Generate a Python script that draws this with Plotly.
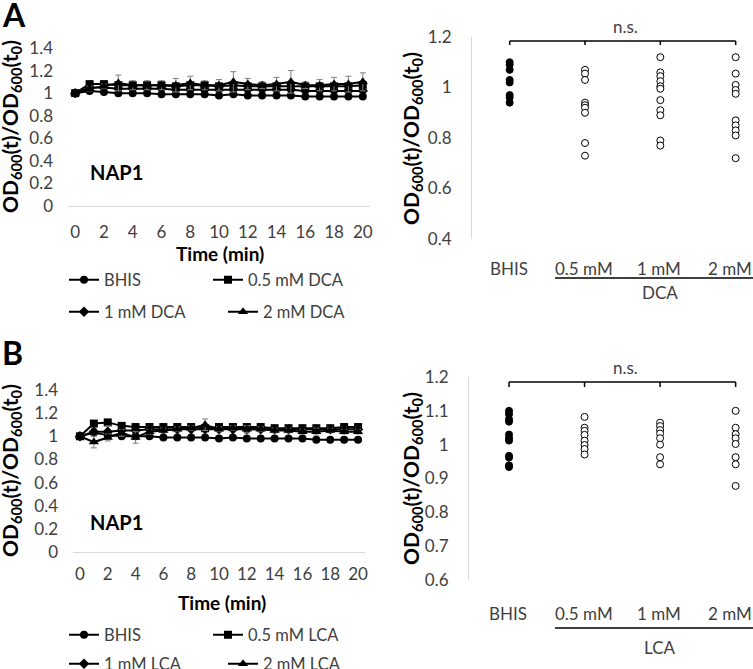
import plotly.graph_objects as go

W, H = 753, 669
FONT = "Lato, Carlito, Calibri, sans-serif"
GREY = "#404040"


def px(x):
    return x / W


def py(y):
    return 1 - y / H


# ---------------- data ----------------
TIME = list(range(21))
TIME_TICKS = list(range(0, 21, 2))

# Panel A (DCA) time courses
A_BHIS = [1.00, 1.02, 1.01, 1.00, 1.00, 1.00, 0.99, 0.99, 0.99, 0.99, 0.98,
          0.99, 0.98, 0.98, 0.98, 0.98, 0.97, 0.97, 0.97, 0.97, 0.97]
A_BHIS_ERR = [0.00, 0.01, 0.01, 0.01, 0.01, 0.01, 0.01, 0.01, 0.01, 0.01, 0.01,
              0.01, 0.01, 0.01, 0.01, 0.01, 0.01, 0.01, 0.01, 0.01, 0.01]
A_05 = [1.00, 1.08, 1.08, 1.07, 1.07, 1.07, 1.07, 1.06, 1.07, 1.07, 1.06,
        1.07, 1.06, 1.06, 1.06, 1.06, 1.06, 1.06, 1.06, 1.06, 1.07]
A_05_ERR = [0.00, 0.01, 0.01, 0.02, 0.02, 0.02, 0.02, 0.02, 0.02, 0.02, 0.02,
            0.02, 0.02, 0.02, 0.02, 0.02, 0.02, 0.02, 0.02, 0.02, 0.02]
A_1 = [1.00, 1.05, 1.05, 1.04, 1.04, 1.04, 1.04, 1.03, 1.03, 1.03, 1.03,
       1.03, 1.03, 1.03, 1.03, 1.03, 1.02, 1.02, 1.02, 1.02, 1.02]
A_1_ERR = [0.00, 0.02, 0.02, 0.02, 0.02, 0.02, 0.02, 0.02, 0.02, 0.02, 0.02,
           0.02, 0.02, 0.02, 0.02, 0.02, 0.02, 0.02, 0.02, 0.02, 0.02]
A_2 = [1.00, 1.04, 1.06, 1.09, 1.07, 1.07, 1.07, 1.07, 1.09, 1.07, 1.07,
       1.10, 1.08, 1.07, 1.08, 1.10, 1.07, 1.07, 1.08, 1.08, 1.10]
A_2_ERR = [0.00, 0.02, 0.02, 0.07, 0.04, 0.04, 0.04, 0.06, 0.06, 0.04, 0.05,
           0.09, 0.05, 0.03, 0.06, 0.10, 0.03, 0.05, 0.06, 0.07, 0.08]

# Panel B (LCA) time courses
B_BHIS = [1.00, 1.03, 1.01, 1.00, 1.00, 1.00, 0.99, 0.99, 0.99, 0.99, 0.98,
          0.99, 0.98, 0.98, 0.98, 0.98, 0.98, 0.97, 0.97, 0.97, 0.97]
B_BHIS_ERR = [0.00, 0.01, 0.01, 0.01, 0.01, 0.01, 0.01, 0.01, 0.01, 0.01, 0.01,
              0.01, 0.01, 0.01, 0.01, 0.01, 0.01, 0.01, 0.01, 0.01, 0.01]
B_05 = [1.00, 1.11, 1.12, 1.09, 1.08, 1.08, 1.08, 1.08, 1.08, 1.07, 1.08,
        1.08, 1.08, 1.08, 1.07, 1.07, 1.07, 1.07, 1.07, 1.08, 1.08]
B_05_ERR = [0.00, 0.02, 0.02, 0.02, 0.02, 0.02, 0.02, 0.02, 0.02, 0.02, 0.02,
            0.02, 0.02, 0.02, 0.02, 0.02, 0.02, 0.02, 0.02, 0.02, 0.02]
B_1 = [1.00, 1.04, 1.04, 1.05, 1.05, 1.06, 1.06, 1.06, 1.06, 1.06, 1.06,
       1.06, 1.06, 1.06, 1.06, 1.06, 1.06, 1.06, 1.06, 1.06, 1.06]
B_1_ERR = [0.00, 0.03, 0.05, 0.02, 0.02, 0.02, 0.02, 0.02, 0.02, 0.02, 0.02,
           0.02, 0.03, 0.02, 0.02, 0.02, 0.02, 0.02, 0.02, 0.02, 0.02]
B_2 = [1.00, 0.95, 0.99, 1.03, 0.99, 1.04, 1.05, 1.06, 1.07, 1.10, 1.06,
       1.07, 1.06, 1.06, 1.05, 1.05, 1.04, 1.04, 1.05, 1.04, 1.04]
B_2_ERR = [0.00, 0.05, 0.03, 0.03, 0.05, 0.02, 0.02, 0.02, 0.02, 0.05, 0.02,
           0.02, 0.03, 0.02, 0.02, 0.02, 0.02, 0.03, 0.02, 0.02, 0.02]

# Right panels: individual replicate values
CATS = ["BHIS", "0.5 mM", "1 mM", "2 mM"]
DCA_BHIS = [1.10, 1.09, 1.07, 1.03, 1.02, 0.97, 0.96, 0.94]
DCA_05 = [1.07, 1.055, 1.03, 0.94, 0.93, 0.92, 0.90, 0.78, 0.73]
DCA_1 = [1.12, 1.06, 1.045, 1.025, 1.005, 0.995, 0.95, 0.91, 0.89, 0.79, 0.77]
DCA_2 = [1.12, 1.055, 1.01, 0.99, 0.975, 0.87, 0.85, 0.83, 0.81, 0.72]

LCA_BHIS = [1.10, 1.09, 1.075, 1.068, 1.03, 1.02, 1.012, 0.967, 0.962, 0.939, 0.934]
LCA_05 = [1.082, 1.05, 1.041, 1.029, 1.012, 0.999, 0.987, 0.971]
LCA_1 = [1.065, 1.055, 1.043, 1.033, 1.019, 1.00, 0.963, 0.942]
LCA_2 = [1.10, 1.05, 1.031, 1.019, 1.002, 0.963, 0.942, 0.878]

A_NAMES = ["BHIS", "0.5 mM DCA", "1 mM DCA", "2 mM DCA"]
B_NAMES = ["BHIS", "0.5 mM LCA", "1 mM LCA", "2 mM LCA"]

# ---------------- figure ----------------
fig = go.Figure()

SYMBOLS = ["circle", "square", "diamond", "triangle-up"]
SIZES = [8, 8, 8, 9]

legend_pos_A = [(64, 280), (208, 280), (64, 312), (223, 312)]
legend_pos_B = [(64, 635), (208, 635), (64, 664), (223, 664)]

A_SERIES = [(A_BHIS, A_BHIS_ERR), (A_05, A_05_ERR), (A_1, A_1_ERR), (A_2, A_2_ERR)]
B_SERIES = [(B_BHIS, B_BHIS_ERR), (B_05, B_05_ERR), (B_1, B_1_ERR), (B_2, B_2_ERR)]

legend_layouts = {}
lcount = 0
for series, names, xa, ya, lpos in [
    (A_SERIES, A_NAMES, "x", "y", legend_pos_A),
    (B_SERIES, B_NAMES, "x3", "y3", legend_pos_B),
]:
    for i, ((vals, errs), name) in enumerate(zip(series, names)):
        lcount += 1
        lname = "legend" if lcount == 1 else f"legend{lcount}"
        fig.add_trace(go.Scatter(
            x=TIME, y=vals, name=name, mode="lines+markers",
            xaxis=xa, yaxis=ya,
            line=dict(color="black", width=2),
            marker=dict(symbol=SYMBOLS[i], size=SIZES[i], color="black"),
            error_y=dict(type="data", array=errs, visible=True,
                         color="#7f7f7f", thickness=1, width=3),
            legend=lname, showlegend=True,
        ))
        lx, ly = lpos[i]
        legend_layouts[lname] = dict(
            x=px(lx), y=py(ly), xanchor="left", yanchor="middle",
            bgcolor="rgba(0,0,0,0)", borderwidth=0,
            font=dict(family=FONT, size=16.5, color=GREY),
            itemwidth=30, tracegroupgap=0,
        )

# strip plots
for groups, xa, ya in [
    ([DCA_BHIS, DCA_05, DCA_1, DCA_2], "x2", "y2"),
    ([LCA_BHIS, LCA_05, LCA_1, LCA_2], "x4", "y4"),
]:
    for j, vals in enumerate(groups):
        filled = j == 0
        fig.add_trace(go.Scatter(
            x=[CATS[j]] * len(vals), y=vals, mode="markers",
            xaxis=xa, yaxis=ya, showlegend=False,
            marker=dict(symbol="circle", size=7,
                        color="black" if filled else "white",
                        line=dict(color="black", width=1)),
        ))

tickfont = dict(family=FONT, size=17, color=GREY)

fig.update_layout(
    width=W, height=H,
    margin=dict(l=0, r=0, t=0, b=0, autoexpand=False),
    paper_bgcolor="white", plot_bgcolor="white",
    font=dict(family=FONT, color=GREY),
    xaxis=dict(domain=[px(68), px(370)], range=[-0.5, 20.5],
               tickvals=TIME_TICKS, showline=True, linecolor="#d9d9d9",
               linewidth=1, showgrid=False, zeroline=False, ticks="",
               tickfont=tickfont, ticklabelstandoff=11, anchor="y"),
    yaxis=dict(domain=[py(206), py(48)], range=[0, 1.4], dtick=0.2,
               showline=False, showgrid=False, zeroline=False, ticks="",
               tickfont=tickfont, ticklabelstandoff=14, anchor="x"),
    xaxis3=dict(domain=[px(73), px(365)], range=[-0.5, 20.5],
                tickvals=TIME_TICKS, showline=True, linecolor="#d9d9d9",
                linewidth=1, showgrid=False, zeroline=False, ticks="",
                tickfont=tickfont, ticklabelstandoff=7, anchor="y3"),
    yaxis3=dict(domain=[py(552), py(390)], range=[0, 1.4], dtick=0.2,
                showline=False, showgrid=False, zeroline=False, ticks="",
                tickfont=tickfont, ticklabelstandoff=14, anchor="x3"),
    xaxis2=dict(domain=[px(472), 1], range=[-0.5, 3.23], type="category",
                categoryorder="array", categoryarray=CATS,
                showline=False, showgrid=False, zeroline=False, ticks="",
                showticklabels=False, anchor="y2"),
    yaxis2=dict(domain=[py(239), py(37)], range=[0.4, 1.2], dtick=0.2,
                showline=True, linecolor="#d9d9d9", linewidth=1,
                showgrid=False, zeroline=False, ticks="",
                tickfont=tickfont, ticklabelstandoff=16, anchor="x2"),
    xaxis4=dict(domain=[px(469), 1], range=[-0.53, 3.23], type="category",
                categoryorder="array", categoryarray=CATS,
                showline=False, showgrid=False, zeroline=False, ticks="",
                showticklabels=False, anchor="y4"),
    yaxis4=dict(domain=[py(580), py(377)], range=[0.6, 1.2], dtick=0.1,
                showline=True, linecolor="#d9d9d9", linewidth=1,
                showgrid=False, zeroline=False, ticks="",
                tickfont=tickfont, ticklabelstandoff=16, anchor="x4"),
    **legend_layouts,
)

YT = "<b>OD<sub>600</sub>(t)/OD<sub>600</sub>(t<sub>0</sub>)</b>"
ann = []
# y titles
for (x, y) in [(11, 127), (412, 138), (11, 471), (412, 478)]:
    ann.append(dict(text=YT, x=px(x), y=py(y), xref="paper", yref="paper",
                    xanchor="center", yanchor="middle", textangle=-90,
                    showarrow=False, font=dict(family=FONT, size=21, color="black")))
# x titles
for (x, y) in [(220, 253), (222, 602)]:
    ann.append(dict(text="<b>Time (min)</b>", x=px(x), y=py(y), xref="paper", yref="paper",
                    xanchor="center", yanchor="middle", showarrow=False,
                    font=dict(family=FONT, size=19, color="black")))
# NAP1
for (x, y) in [(88, 172), (88, 522)]:
    ann.append(dict(text="<b>NAP1</b>", x=px(x), y=py(y), xref="paper", yref="paper",
                    xanchor="left", yanchor="middle", showarrow=False,
                    font=dict(family=FONT, size=20, color="black")))
# panel letters
for (t, x, y) in [("A", 0, 15), ("B", 0, 352)]:
    ann.append(dict(text=f"<b>{t}</b>", x=px(x), y=py(y), xref="paper", yref="paper",
                    xanchor="left", yanchor="middle", showarrow=False,
                    font=dict(family=FONT, size=32, color="black")))
# category labels under the strip plots
for xa, ylab in [("x2", 268), ("x4", 613)]:
    for j, c in enumerate(CATS):
        ann.append(dict(text=c, x=c, y=py(ylab), xref=xa, yref="paper",
                        xanchor="center", yanchor="middle", showarrow=False,
                        xshift=-6 if j == len(CATS) - 1 else -1,
                        font=dict(family=FONT, size=17, color=GREY)))
# n.s. and group labels
for (t, x, y) in [("n.s.", 625, 26), ("n.s.", 625, 367), ("DCA", 660, 292), ("LCA", 660, 647)]:
    ann.append(dict(text=t, x=px(x), y=py(y), xref="paper", yref="paper",
                    xanchor="center", yanchor="middle", showarrow=False,
                    font=dict(family=FONT, size=17, color=GREY)))
fig.update_layout(annotations=ann)

shapes = []
# brackets
for xa, ytop, ybot in [("x2", 41, 45), ("x4", 382, 387)]:
    shapes.append(dict(type="line", xref=xa, yref="paper", x0=0, x1=3,
                       y0=py(ytop), y1=py(ytop), line=dict(color="black", width=1.5)))
    for k in range(4):
        shapes.append(dict(type="line", xref=xa, yref="paper", x0=k, x1=k,
                           y0=py(ytop), y1=py(ybot), line=dict(color="black", width=1.5)))
# group underlines
for yline in [278, 628]:
    shapes.append(dict(type="line", xref="paper", yref="paper", x0=px(555), x1=1,
                       y0=py(yline), y1=py(yline), line=dict(color="black", width=1.5)))
fig.update_layout(shapes=shapes)

fig.write_html("out.html", config={"displayModeBar": False},
               post_script="document.body.style.margin='0px';")
